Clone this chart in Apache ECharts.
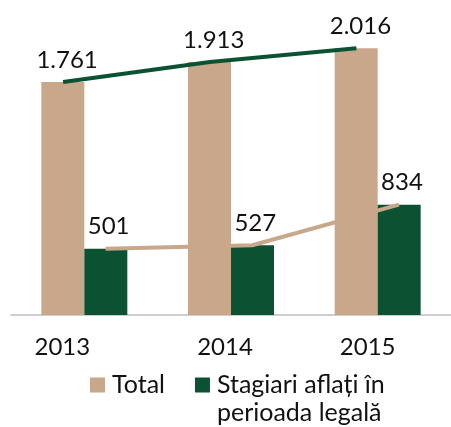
<!DOCTYPE html>
<html>
<head>
<meta charset="utf-8">
<script src="https://cdn.jsdelivr.net/npm/echarts@6/dist/echarts.min.js"></script>
<style>
  html, body { margin: 0; padding: 0; background: #fff; }
  #chart { width: 451px; height: 427px; }
</style>
</head>
<body>
<div id="chart"></div>
<script>
// date
const years = ['2013', '2014', '2015'];
const totalValues = [1761, 1913, 2016];
const stagiariValues = [501, 527, 834];
const legendNames = ['Total', 'Stagiari aflați în\nperioada legală'];

const TAN = '#C9A78B';
const GREEN = '#0B5233';
const TEXT = '#111';
const FONT = 'Lato';

// dimensiuni grila
const gridLeft = 11;
const gridWidth = 445;
const barWidth = 43;
// deplasarea centrului barei fata de centrul categoriei (in unitati de categorie)
const barShift = (barWidth / 2) / (gridWidth / years.length);

// etichetele anilor nu sunt centrate exact sub grupuri
const yearLabelStyle = (padRight) => ({
    fontFamily: FONT, fontSize: 24, color: TEXT, padding: [0, padRight, 0, 0]
});

const chart = echarts.init(document.getElementById('chart'));

const option = {
    animation: false,
    textStyle: { fontFamily: FONT },
    grid: {
        left: gridLeft,
        width: gridWidth,
        top: 24,
        height: 291
    },
    legend: {
        data: legendNames,
        left: 90,
        top: 343,
        padding: 0,
        icon: 'rect',
        itemWidth: 15,
        itemHeight: 15,
        itemGap: 30,
        formatter: function (name) {
            // prima linie aliniata cu patratul
            return name.indexOf('\n') >= 0 ? '\n' + name : name;
        },
        textStyle: {
            fontFamily: FONT,
            fontSize: 25,
            lineHeight: 28,
            color: TEXT,
            padding: [0, 0, 0, 2]
        }
    },
    xAxis: [{
        type: 'category',
        data: years,
        axisTick: { show: false },
        axisLine: { lineStyle: { color: '#BFBFBF', width: 1.5 } },
        axisLabel: {
            margin: 20,
            fontFamily: FONT,
            fontSize: 24,
            color: TEXT,
            formatter: (val, idx) => '{y' + idx + '|' + val + '}',
            rich: {
                y0: yearLabelStyle(44),
                y1: yearLabelStyle(12),
                y2: yearLabelStyle(20)
            }
        }
    }, {
        type: 'value',
        min: -0.5,
        max: years.length - 0.5,
        show: false
    }],
    yAxis: {
        type: 'value',
        min: 0,
        max: 2200,
        show: false,
        splitLine: { show: false }
    },
    series: [{
        name: legendNames[0],
        type: 'bar',
        data: totalValues,
        barWidth: barWidth,
        barGap: '0%',
        itemStyle: { color: TAN }
    }, {
        name: legendNames[1],
        type: 'bar',
        data: stagiariValues,
        barWidth: barWidth,
        itemStyle: { color: GREEN }
    }, {
        name: 'linieTotal',
        type: 'line',
        xAxisIndex: 1,
        z: 5,
        symbol: 'circle',
        symbolSize: 0,
        showSymbol: true,
        data: totalValues.map((v, i) => [i - barShift, v]),
        lineStyle: { color: GREEN, width: 4 },
        itemStyle: { color: GREEN },
        label: {
            show: true,
            position: 'top',
            distance: 10,
            offset: [4, 0],
            fontFamily: FONT,
            fontSize: 24,
            color: TEXT,
            formatter: p => p.value[1].toLocaleString('de-DE')
        }
    }, {
        name: 'linieStagiari',
        type: 'line',
        xAxisIndex: 1,
        z: 5,
        symbol: 'circle',
        symbolSize: 0,
        showSymbol: true,
        data: stagiariValues.map((v, i) => [i + barShift, v]),
        lineStyle: { color: TAN, width: 4 },
        itemStyle: { color: TAN },
        label: {
            show: true,
            position: 'top',
            distance: 10,
            offset: [3, 0],
            fontFamily: FONT,
            fontSize: 24,
            color: TEXT,
            formatter: p => String(p.value[1])
        }
    }]
};

chart.setOption(option);
</script>
</body>
</html>
